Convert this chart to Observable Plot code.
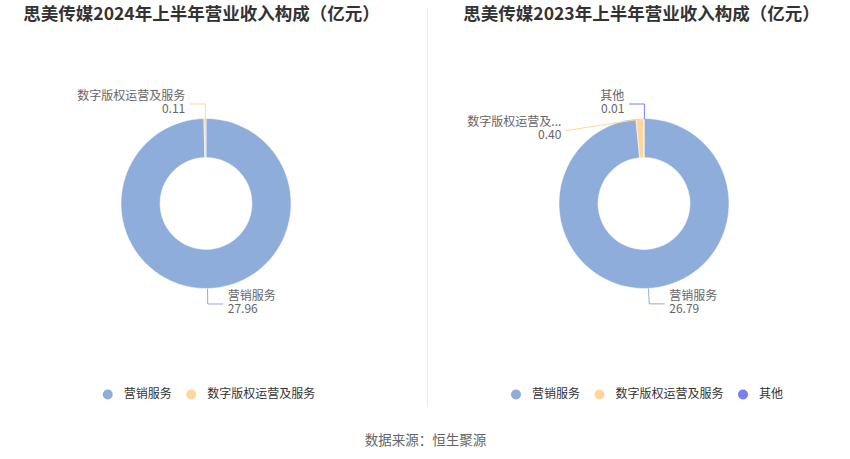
<!DOCTYPE html>
<html><head><meta charset="utf-8">
<script src="https://cdn.jsdelivr.net/npm/d3@7"></script>
<script src="https://cdn.jsdelivr.net/npm/@observablehq/plot@0.6"></script>
<style>
body{margin:0;background:#fff;}
#chart{width:850px;height:459px;}
</style></head><body><div id="chart"></div>
<script>
// ---- data ----
const categories = ["营销服务", "数字版权运营及服务", "其他"];
const colors = ["#8eaddb", "#ffd899", "#7b7ef4"];
const titles = ["思美传媒2024年上半年营业收入构成（亿元）", "思美传媒2023年上半年营业收入构成（亿元）"];
const cats2024 = ["营销服务", "数字版权运营及服务"];
const values2024 = [27.96, 0.11];
const labels2024 = ["营销服务", "数字版权运营及服务"];
const cats2023 = ["营销服务", "数字版权运营及服务", "其他"];
const values2023 = [26.79, 0.40, 0.01];
const labels2023 = ["营销服务", "数字版权运营及...", "其他"];
const source = "数据来源：恒生聚源";

// ---- layout ----
const W = 850, H = 459;
const R = 85, R0 = 46;
const FONT = "'Noto Sans CJK SC', 'Noto Sans', sans-serif";
const panels = [
  {title: titles[0], cats: cats2024, values: values2024, labels: labels2024, cx: 206, cy: 203.5, titleX: 201,
   leader: [{}, {}]},
  {title: titles[1], cats: cats2023, values: values2023, labels: labels2023, cx: 644, cy: 203.5, titleX: 641,
   leader: [{}, {len1: 0, len2: 74, dy: 11.5, ndy: -8, vdy: 5}, {}]}
];

const slices = [], lines = [], labelPts = [], legend = [];
const ctx = document.createElement("canvas").getContext("2d");
ctx.font = "12px " + FONT;

panels.forEach((p, pi) => {
  const arcs = d3.pie().sort(null).value(d => d)(p.values);
  arcs.forEach((a, i) => {
    const cat = p.cats[i];
    slices.push({cat, startAngle: a.startAngle, endAngle: a.endAngle, cx: p.cx, cy: p.cy});
    const mid = (a.startAngle + a.endAngle) / 2;
    const s = Math.sin(mid), c = -Math.cos(mid);
    const o = Object.assign({len1: 15, len2: 15, dy: 0, ndy: -7.5, vdy: 5.5}, p.leader[i]);
    const x0 = p.cx + R * s, y0 = p.cy + R * c;
    const x1 = p.cx + (R + o.len1) * s, y1 = p.cy + (R + o.len1) * c;
    const side = s < 0 ? -1 : 1;
    const x2 = x1 + side * o.len2, y2 = y1 + o.dy;
    const id = pi + "-" + i;
    lines.push({id, cat, x: x0, y: y0}, {id, cat, x: x1, y: y1}, {id, cat, x: x2, y: y2});
    labelPts.push({cat, name: p.labels[i], value: p.values[i].toFixed(2), x: x2 + side * 5, y: y2, side, ndy: o.ndy, vdy: o.vdy});
  });
  // legend centered under donut
  const widths = p.cats.map(c => ctx.measureText(c).width);
  const total = 5 + d3.sum(widths, w => 16 + w) + (p.cats.length - 1) * 19.5;
  let x = p.cx + 2.5 - total / 2 + 5;
  p.cats.forEach((c, i) => {
    legend.push({cat: c, x, y: 394});
    x += 16 + widths[i] + 19.5;
  });
});

const donut = (index, scales) => {
  const g = d3.create("svg:g");
  const arc = d3.arc().innerRadius(R0).outerRadius(R);
  g.selectAll("path").data(slices).join("path")
    .attr("transform", d => `translate(${scales.x(d.cx)},${scales.y(d.cy)})`)
    .attr("d", d => arc(d))
    .attr("fill", d => scales.color(d.cat))
    .attr("stroke", "#fff")
    .attr("stroke-width", 0.5);
  return g.node();
};

const left = labelPts.filter(d => d.side < 0), right = labelPts.filter(d => d.side > 0);
const labelMarks = (data, anchor) => [
  Plot.text(data, {x: "x", y: d => d.y + d.ndy, text: "name", textAnchor: anchor, fill: "#666", fontSize: 12}),
  Plot.text(data, {x: "x", y: d => d.y + d.vdy, text: "value", textAnchor: anchor, fill: "#666", fontSize: 12})
];

const chart = Plot.plot({
  width: W, height: H,
  margin: 0,
  x: {domain: [0, W], range: [0, W], axis: null},
  y: {domain: [0, H], range: [0, H], axis: null},
  color: {domain: categories, range: colors},
  style: {fontFamily: FONT, background: "#fff"},
  marks: [
    Plot.ruleX([427], {y1: 8, y2: 407, stroke: "#ececec", strokeWidth: 1}),
    donut,
    Plot.line(lines, {x: "x", y: "y", z: "id", stroke: "cat", strokeWidth: 1}),
    ...labelMarks(left, "end"),
    ...labelMarks(right, "start"),
    Plot.dot(legend, {x: "x", y: "y", r: 5, fill: "cat"}),
    Plot.text(legend, {x: d => d.x + 16, y: "y", text: "cat", textAnchor: "start", fill: "#333", fontSize: 12}),
    Plot.text(panels, {x: "titleX", y: 13.5, text: "title", fontSize: 17.5, fontWeight: "bold", fill: "#333"}),
    Plot.text([source], {x: 425, y: 440, text: d => d, fontSize: 13.5, fill: "#666"})
  ]
});
document.getElementById("chart").appendChild(chart);
</script>
</body></html>
